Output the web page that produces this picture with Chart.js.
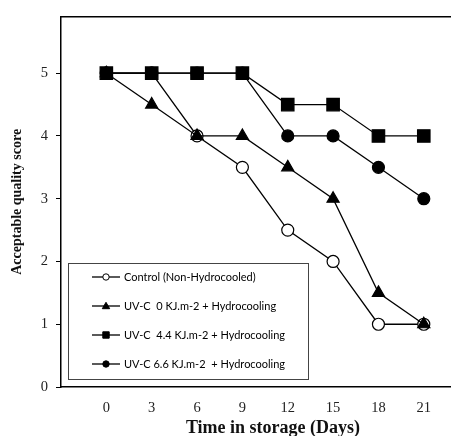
<!DOCTYPE html>
<html>
<head>
<meta charset="utf-8">
<script src="https://cdn.jsdelivr.net/npm/chart.js@4"></script>
<style>
  html, body { margin: 0; padding: 0; background: #fff; }
  #wrap { width: 451px; height: 436px; }
</style>
</head>
<body>
<div id="wrap"><canvas id="myChart" width="451" height="436"></canvas></div>
<script>
const days = [0, 3, 6, 9, 12, 15, 18, 21];
const yTicks = [0, 1, 2, 3, 4, 5];

const control = [5, 5, 4, 3.5, 2.5, 2, 1, 1];
const uv0 = [5, 4.5, 4, 4, 3.5, 3, 1.5, 1];
const uv44 = [5, 5, 5, 5, 4.5, 4.5, 4, 4];
const uv66 = [5, 5, 5, 5, 4, 4, 3.5, 3];

const labels = [
  "Control (Non-Hydrocooled)",
  "UV-C  0 KJ.m-2 + Hydrocooling",
  "UV-C  4.4 KJ.m-2 + Hydrocooling",
  "UV-C 6.6 KJ.m-2  + Hydrocooling",
];

const toPoints = (vals) => vals.map((v, i) => ({ x: days[i], y: v }));

const ctx = document.getElementById("myChart").getContext("2d");

// legend box inside the plot area, the top frame line and the x title
const boxLegend = {
  id: "boxLegend",
  afterDatasetsDraw(chart) {
    const c = chart.ctx;
    const a = chart.chartArea;
    c.save();
    c.strokeStyle = "#000";
    c.lineWidth = 1.5;
    c.beginPath();
    c.moveTo(a.left, a.top);
    c.lineTo(a.right, a.top);
    c.stroke();

    const bx = 68, by = 263, bw = 240, bh = 116;
    c.fillStyle = "#fff";
    c.fillRect(bx, by, bw, bh);
    c.lineWidth = 1;
    c.strokeStyle = "#444";
    c.strokeRect(bx + 0.5, by + 0.5, bw, bh);

    c.font = "11px Lato, 'Liberation Sans', sans-serif";
    c.textBaseline = "middle";
    chart.data.datasets.forEach((ds, i) => {
      const y = by + 14 + i * 29;
      c.strokeStyle = "#000";
      c.lineWidth = 1.3;
      c.beginPath();
      c.moveTo(92, y);
      c.lineTo(120, y);
      c.stroke();
      c.fillStyle = ds.pointBackgroundColor;
      c.strokeStyle = "#000";
      c.lineWidth = 1;
      const r = 3.2;
      c.beginPath();
      if (ds.pointStyle === "rect") {
        c.rect(106 - r, y - r, 2 * r, 2 * r);
      } else if (ds.pointStyle === "triangle") {
        c.moveTo(106, y - r - 0.5);
        c.lineTo(106 + r + 0.5, y + r - 0.5);
        c.lineTo(106 - r - 0.5, y + r - 0.5);
        c.closePath();
      } else {
        c.arc(106, y, r, 0, Math.PI * 2);
      }
      c.fill();
      c.stroke();
      c.fillStyle = "#000";
      c.fillText(ds.label, 124, y);
    });

    c.font = "bold 18px 'Liberation Serif', serif";
    c.textAlign = "center";
    c.textBaseline = "middle";
    c.fillStyle = "#111";
    c.fillText("Time in storage (Days)", 273, 428);
    c.restore();
  },
};

const mk = (label, data, style, fill, radius, order) => ({
  label: label,
  data: toPoints(data),
  order: order,
  borderColor: "#000",
  borderWidth: 1.3,
  pointStyle: style,
  pointRadius: radius,
  pointBackgroundColor: fill,
  pointBorderColor: "#000",
  pointBorderWidth: 1.2,
  tension: 0,
  clip: false,
});

new Chart(ctx, {
  type: "line",
  data: {
    datasets: [
      mk(labels[0], control, "circle", "#fff", 6, 4),
      mk(labels[1], uv0, "triangle", "#000", 7, 3),
      mk(labels[2], uv44, "rect", "#000", 8.8, 1),
      mk(labels[3], uv66, "circle", "#000", 6, 2),
    ],
  },
  options: {
    responsive: false,
    animation: false,
    layout: { autoPadding: false, padding: { top: 12, right: 0, left: 0, bottom: 0 } },
    plugins: {
      legend: { display: false },
      tooltip: { enabled: false },
    },
    scales: {
      x: {
        type: "linear",
        min: -3,
        max: 22.8,
        afterBuildTicks: (s) => { s.ticks = days.map((d) => ({ value: d })); },
        afterFit: (s) => { s.height = 49; },
        grid: { display: false, drawTicks: false },
        border: { color: "#000", width: 1.5 },
        ticks: {
          color: "#222",
          padding: 12,
          font: { family: "'Liberation Serif', serif", size: 14.5 },
        },
      },
      y: {
        min: 0,
        max: 5.9,
        afterBuildTicks: (s) => { s.ticks = yTicks.map((v) => ({ value: v })); },
        afterFit: (s) => { s.width = 61; },
        grid: { display: true, drawOnChartArea: false, drawTicks: true, tickLength: 5, tickColor: "#000" },
        border: { color: "#000", width: 1.5 },
        ticks: {
          color: "#222",
          padding: 8,
          font: { family: "'Liberation Serif', serif", size: 14.5 },
        },
        title: {
          display: true,
          text: "Acceptable quality score",
          color: "#111",
          padding: { top: 9, bottom: 0 },
          font: { family: "'Liberation Serif', serif", size: 14, weight: "bold" },
        },
      },
    },
  },
  plugins: [boxLegend],
});
</script>
</body>
</html>
